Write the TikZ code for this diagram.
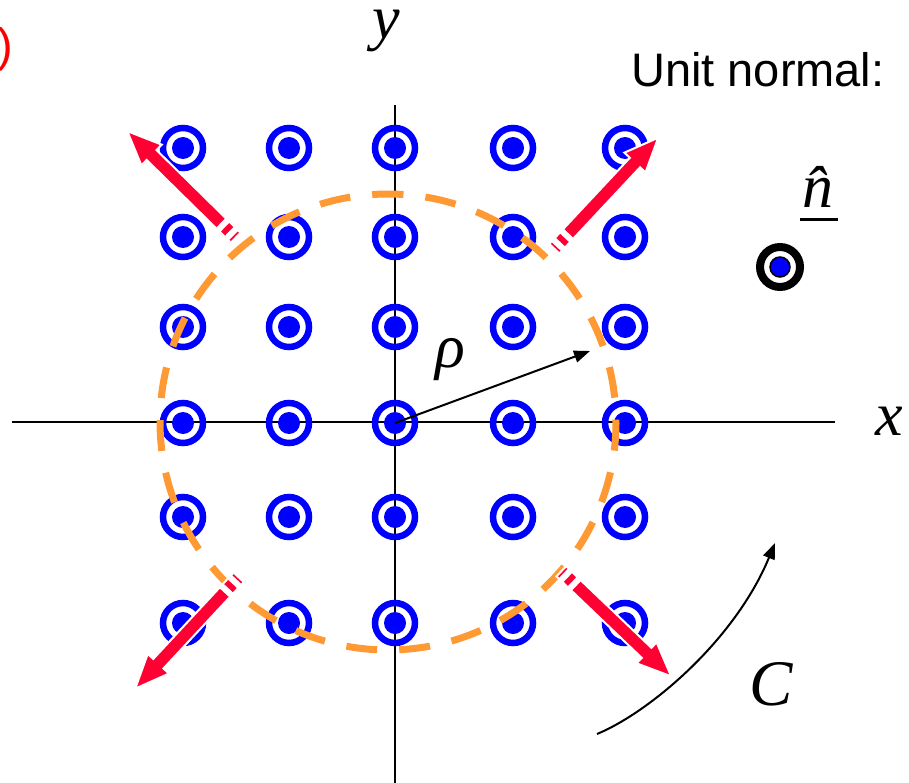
\documentclass[tikz,border=0pt]{standalone}
\usepackage{fontspec}
\setmainfont{Liberation Serif}
\newfontfamily\arialf{Liberation Sans}
\usetikzlibrary{arrows.meta}
\definecolor{ringblue}{RGB}{0,0,255}
\definecolor{dashorange}{RGB}{255,153,51}
\definecolor{arrowred}{RGB}{255,0,51}
\newcommand{\stripedarrow}[2]{%
  \begin{scope}[shift={#1},rotate=#2]
    \filldraw[redarrow] (-1,-7) rectangle (3,7);
    \filldraw[redarrow] (7,-7) rectangle (15,7);
    \filldraw[redarrow] (19,-7) -- (117,-7) -- (117,-14.5) -- (151,0) -- (117,14.5) -- (117,7) -- (19,7) -- cycle;
  \end{scope}}
\begin{document}
\begin{tikzpicture}[x=1pt,y=-1pt,
  ring/.style={circle,draw=ringblue,line width=6.5pt,minimum size=40pt,inner sep=0pt},
  dotn/.style={circle,fill=ringblue,minimum size=22pt,inner sep=0pt},
  blackring/.style={circle,draw=black,line width=8pt,minimum size=40pt,inner sep=0pt},
  blackdot/.style={circle,fill=ringblue,draw=black,line width=1.5pt,minimum size=20pt,inner sep=0pt},
  redarrow/.style={fill=arrowred,draw=white,line width=2pt,line join=miter},
  axisline/.style={line width=2pt,black},
  dashcirc/.style={draw=dashorange,line width=7pt,dash pattern=on 31pt off 22.05pt},
  thinarrow/.style={line width=2pt,-{Triangle[length=16pt,width=12pt]}},
  mathlbl/.style={font=\fontsize{62}{70}\selectfont\itshape,inner sep=0pt},
  sanslbl/.style={font=\arialf\fontsize{47}{52}\selectfont,inner sep=0pt}]
\useasboundingbox (0,0) rectangle (909,783);
\clip (0,0) rectangle (909,783);

% axes
\coordinate (xl) at (12,422);
\coordinate (xr) at (835,422);
\coordinate (yt) at (395,105);
\coordinate (yb) at (395,783);
\draw[axisline] (xl) -- (xr);
\draw[axisline] (yt) -- (yb);

% rings
\foreach \xx [count=\i] in {183,289,395,513,625}
  \foreach \yy [count=\j] in {148,237,327,423,517,623} {
    \node[ring] (r\i\j) at (\xx,\yy) {};
    \node[dotn] (d\i\j) at (\xx,\yy) {};
  }

% dashed circle
\coordinate (cc) at (388,422);
\draw[dashcirc] (cc) ++(-93.9:228) arc[start angle=-93.9, delta angle=360, radius=228];

% red striped arrows
\stripedarrow{(235,237)}{135.5}
\stripedarrow{(555,248)}{46.9}
\stripedarrow{(562,572)}{-43.7}
\stripedarrow{(238,578)}{-132.9}

% rho arrow
\coordinate (rhoend) at (590,351);
\draw[thinarrow] (r34.center) -- (rhoend);

% C arrow
\coordinate (cstart) at (597,734);
\coordinate (cend) at (775,543);
\draw[thinarrow] (cstart) .. controls (650,712) and (735,640) .. (cend);

% labels
\node[mathlbl,anchor=base] (ylbl) at (386,39) {y};
\node[mathlbl,anchor=base] (xlbl) at (889,435) {x};
\node[mathlbl,anchor=base] (rholbl) at (450,367) {ρ};
\node[mathlbl,anchor=base,font=\fontsize{65}{70}\selectfont\itshape] (clbl) at (771,705) {C};
\node[sanslbl,anchor=base west] (unitlbl) at (631,87) {Unit normal:};
\node[sanslbl,anchor=base west,text=red] (partlbl) at (-3,62) {)};

% unit normal symbol
\node[mathlbl,anchor=base] (nlbl) at (818,208) {\^{n}};
\coordinate (ul) at (800,220);
\coordinate (ur) at (838,220);
\draw[line width=3pt] (ul) -- (ur);
\node[blackring] (nring) at (780,267) {};
\node[blackdot] (ndot) at (780,267) {};
\end{tikzpicture}
\end{document}
